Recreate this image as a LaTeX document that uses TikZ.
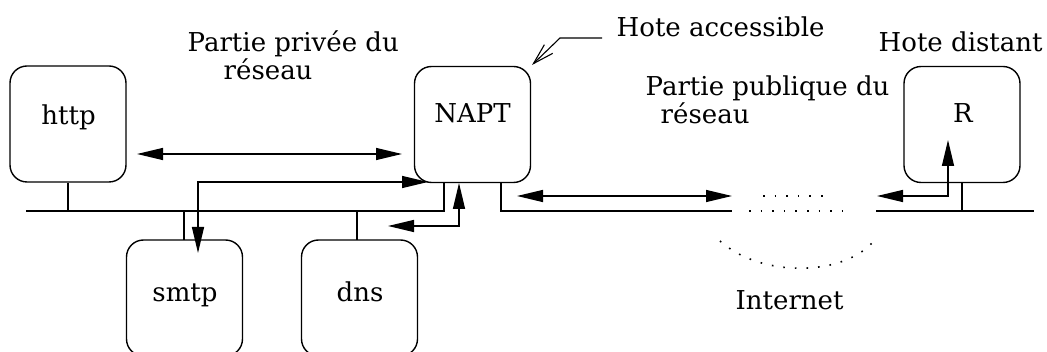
\documentclass[tikz,border=0pt]{standalone}
\usepackage{fontspec}
\setmainfont{DejaVu Serif}
\usetikzlibrary{arrows.meta}
\begin{document}
\begin{tikzpicture}[x=1pt,y=-1pt,
  line width=1.4pt,
  hostbox/.style={draw, rounded corners=17pt, minimum width=116pt, minimum height=116pt, inner sep=0pt},
  lbl/.style={anchor=base west, inner sep=0pt, font=\fontsize{26}{31}\selectfont},
  clbl/.style={anchor=base, inner sep=0pt, font=\fontsize{26}{31}\selectfont},
  dbl/.style={{Triangle[length=26pt,width=12pt]}-{Triangle[length=26pt,width=12pt]}},
  dotline/.style={line width=1.6pt, dash pattern=on 1.6pt off 10pt},
  pointer/.style={line width=1.1pt, -{Straight Barb[length=21pt,width=12pt,line width=1.1pt]}}
]
\useasboundingbox (0,0) rectangle (1047,352);

% hosts
\node[hostbox] (http) at (68,124) {};
\node[hostbox] (napt) at (472.5,124.5) {};
\node[hostbox] (r) at (962,124.5) {};
\node[hostbox] (smtp) at (184.5,298) {};
\node[hostbox] (dns) at (359.5,298) {};

\node[clbl] (thttp) at (68.5,125) {http};
\node[clbl] (tnapt) at (472.5,123) {NAPT};
\node[clbl] (tr) at (963,123) {R};
\node[clbl] (tsmtp) at (185,302) {smtp};
\node[clbl] (tdns) at (360,302) {dns};

% labels
\node[lbl] (priv1) at (187,52) {Partie priv\'ee du};
\node[lbl] (priv2) at (223,80) {r\'eseau};
\node[lbl] (pub1) at (645,96) {Partie publique du};
\node[lbl] (pub2) at (660,124) {r\'eseau};
\node[lbl] (acc) at (616,37) {Hote accessible};
\node[lbl] (dist) at (878,52) {Hote distant};
\node[lbl] (inet) at (735,310) {Internet};

% buses
\coordinate (busL) at (26,211);
\coordinate (busLe) at (444,211);
\coordinate (busRs) at (501,211);
\coordinate (busRe) at (732,211);
\coordinate (busR2s) at (876,211);
\coordinate (busR2e) at (1034,211);
\draw (busL) -- (busLe) -- (busLe |- napt.south);
\draw (busRs |- napt.south) -- (busRs) -- (busRe);
\draw (busR2s) -- (busR2e);
\draw (http.south) -- (http.south |- busL);
\draw (184,211) -- (184,240);
\draw (357,211) -- (357,240);
\draw (r.south) -- (r.south |- busL);

% internet cloud (dotted)
\draw[dotline] (749,211) -- (845,211);
\draw[dotline] (763,196) -- (825,196);
\draw[dotline] (720,241) .. controls (760,277) and (840,277) .. (872,243);

% arrows
\coordinate (a1l) at (137,154);
\coordinate (a1r) at (402,154);
\draw[dbl] (a1l) -- (a1r);

\coordinate (a2n) at (428,182);
\coordinate (a2s) at (198,253);
\draw[dbl] (a2n) -- (a2s |- a2n) -- (a2s);

\coordinate (a3l) at (388,226);
\coordinate (a3n) at (459,183);
\draw[dbl] (a3l) -- (a3n |- a3l) -- (a3n);

\coordinate (a4l) at (517,196);
\coordinate (a4r) at (732,196);
\draw[dbl] (a4l) -- (a4r);

\coordinate (a5u) at (948,140);
\coordinate (a5l) at (877,196);
\draw[dbl] (a5u) -- (a5u |- a5l) -- (a5l);

% pointer to NAPT
\coordinate (p0) at (602,38);
\coordinate (p1) at (560,38);
\coordinate (p2) at (532,65);
\draw[pointer] (p0) -- (p1) -- (p2);
\end{tikzpicture}
\end{document}
